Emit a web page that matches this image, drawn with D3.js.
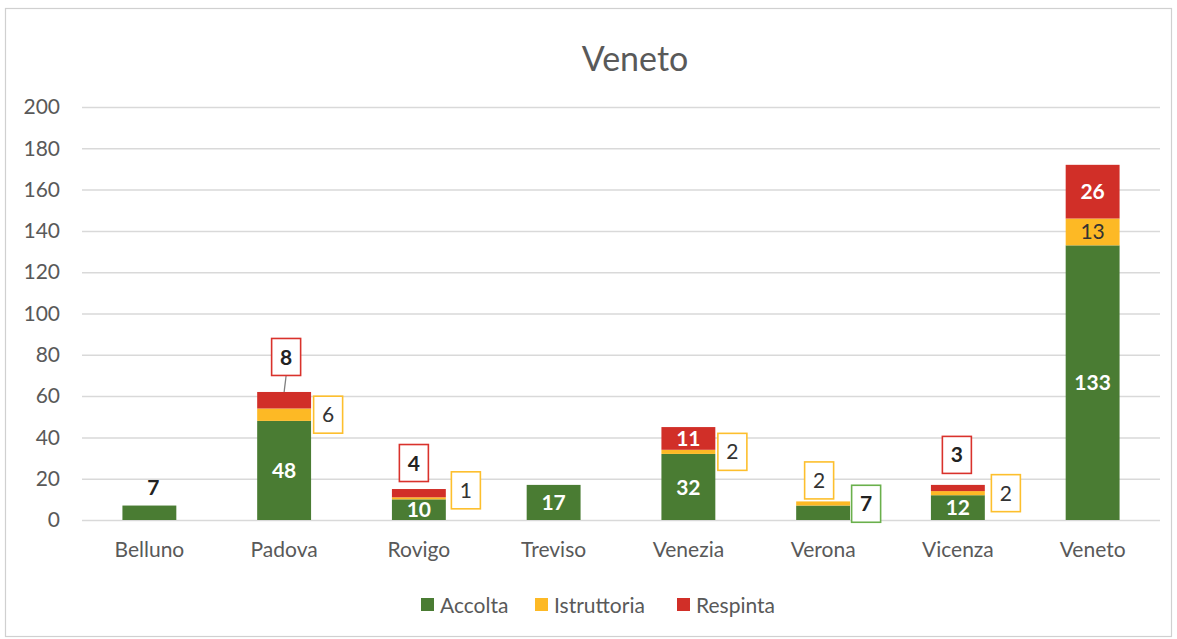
<!DOCTYPE html>
<html>
<head>
<meta charset="utf-8">
<script src="https://cdn.jsdelivr.net/npm/d3@7"></script>
<style>
  html, body { margin: 0; padding: 0; background: #fff; }
  svg { display: block; font-family: Lato, "Open Sans", sans-serif; }
</style>
</head>
<body>
<svg id="chart" width="1177" height="639"></svg>
<script>
// ---- data ----
const categories = ["Belluno", "Padova", "Rovigo", "Treviso", "Venezia", "Verona", "Vicenza", "Veneto"];
const seriesNames = ["Accolta", "Istruttoria", "Respinta"];
const accolta     = [7, 48, 10, 17, 32, 7, 12, 133];
const istruttoria = [0, 6, 1, 0, 2, 2, 2, 13];
const respinta    = [0, 8, 4, 0, 11, 0, 3, 26];
const yTicks = [0, 20, 40, 60, 80, 100, 120, 140, 160, 180, 200];
const titleText = "Veneto";

// ---- styling / layout ----
const colors = { Accolta: "#4a7c33", Istruttoria: "#fdb925", Respinta: "#d12f28" };
const boxColors = { Accolta: "#6ab04c", Istruttoria: "#fdbf2d", Respinta: "#d9322c" };
const textGrey = "#595959";
const fs = 21;

// label placement rules: "in" = inside segment, otherwise a callout with offsets (px)
const labelLayout = [
  { cat: "Belluno", s: "Accolta", mode: "plain", anchor: "top", dx: 4, dy: -18 },
  { cat: "Padova", s: "Accolta", mode: "in" },
  { cat: "Padova", s: "Istruttoria", mode: "box", anchor: "mid", dx: 44, dy: 0 },
  { cat: "Padova", s: "Respinta", mode: "box", anchor: "top", dx: 2, dy: -35, leader: true },
  { cat: "Rovigo", s: "Accolta", mode: "in" },
  { cat: "Rovigo", s: "Istruttoria", mode: "box", anchor: "mid", dx: 47, dy: -8 },
  { cat: "Rovigo", s: "Respinta", mode: "box", anchor: "top", dx: -5, dy: -26 },
  { cat: "Treviso", s: "Accolta", mode: "in" },
  { cat: "Venezia", s: "Accolta", mode: "in" },
  { cat: "Venezia", s: "Istruttoria", mode: "box", anchor: "mid", dx: 44, dy: 0 },
  { cat: "Venezia", s: "Respinta", mode: "in" },
  { cat: "Verona", s: "Accolta", mode: "box", anchor: "mid", dx: 43, dy: -9 },
  { cat: "Verona", s: "Istruttoria", mode: "box", anchor: "top", dx: -4, dy: -21 },
  { cat: "Vicenza", s: "Accolta", mode: "in" },
  { cat: "Vicenza", s: "Istruttoria", mode: "box", anchor: "mid", dx: 48, dy: 0 },
  { cat: "Vicenza", s: "Respinta", mode: "box", anchor: "top", dx: -1, dy: -30 },
  { cat: "Veneto", s: "Accolta", mode: "in" },
  { cat: "Veneto", s: "Istruttoria", mode: "in", dark: true },
  { cat: "Veneto", s: "Respinta", mode: "in" }
];

const svg = d3.select("#chart");
const plot = { left: 82, right: 1160, top: 107, bottom: 520 };

// outer border
svg.append("rect").attr("x", 5.5).attr("y", 8.5).attr("width", 1166).attr("height", 628)
  .attr("fill", "#fff").attr("stroke", "#d0d0d0").attr("stroke-width", 1.2);

// title
svg.append("text").attr("x", 635).attr("y", 71).attr("text-anchor", "middle")
  .attr("font-size", 34).attr("fill", textGrey).text(titleText);

const x = d3.scaleBand().domain(categories).range([plot.left, plot.right])
  .paddingInner(0.6).paddingOuter(0.3);
const y = d3.scaleLinear().domain([0, 200]).range([plot.bottom, plot.top]);

// gridlines + y labels
const yAxis = d3.axisLeft(y).tickValues(yTicks).tickSize(-(plot.right - plot.left)).tickPadding(22);
const gy = svg.append("g").attr("transform", `translate(${plot.left},0)`).call(yAxis);
gy.select(".domain").remove();
gy.selectAll(".tick line").attr("stroke", "#d9d9d9").attr("stroke-width", 1.5);
gy.selectAll(".tick text").attr("font-size", fs).attr("fill", textGrey)
  .attr("font-family", "Lato, 'Open Sans', sans-serif");

// x axis labels
const xAxis = d3.axisBottom(x).tickSize(0).tickPadding(22);
const gx = svg.append("g").attr("transform", `translate(0,${plot.bottom})`).call(xAxis);
gx.select(".domain").remove();
gx.selectAll(".tick text").attr("font-size", fs).attr("fill", textGrey)
  .attr("font-family", "Lato, 'Open Sans', sans-serif");

// stacked data
const table = categories.map((c, i) => ({ cat: c, Accolta: accolta[i], Istruttoria: istruttoria[i], Respinta: respinta[i] }));
const stack = d3.stack().keys(seriesNames)(table);

svg.append("g").selectAll("g").data(stack).join("g")
  .attr("fill", d => colors[d.key])
  .selectAll("rect").data(d => d.filter(p => p[1] - p[0] > 0)).join("rect")
  .attr("x", d => x(d.data.cat))
  .attr("width", x.bandwidth())
  .attr("y", d => y(d[1]))
  .attr("height", d => y(d[0]) - y(d[1]));

// labels
const lab = svg.append("g");
labelLayout.forEach(L => {
  const si = seriesNames.indexOf(L.s);
  const ci = categories.indexOf(L.cat);
  const seg = stack[si][ci];
  const val = seg[1] - seg[0];
  const cx = x(L.cat) + x.bandwidth() / 2;
  const total = stack[stack.length - 1][ci][1];
  if (L.mode === "in") {
    lab.append("text").attr("x", cx).attr("y", y((seg[0] + seg[1]) / 2))
      .attr("dy", "0.36em").attr("text-anchor", "middle").attr("font-size", fs)
      .attr("font-weight", L.dark ? "normal" : "bold")
      .attr("fill", L.dark ? "#333" : "#fff").text(val);
    return;
  }
  const ay = L.anchor === "top" ? y(total) : y((seg[0] + seg[1]) / 2);
  const px = cx + L.dx, py = ay + L.dy;
  if (L.mode === "plain") {
    lab.append("text").attr("x", px).attr("y", py).attr("dy", "0.36em")
      .attr("text-anchor", "middle").attr("font-size", fs).attr("font-weight", "bold")
      .attr("fill", "#222").text(val);
    return;
  }
  const bw = 29, bh = 37;
  if (L.leader) {
    lab.append("line").attr("x1", cx).attr("y1", y(total)).attr("x2", px).attr("y2", py + bh / 2)
      .attr("stroke", "#7f7f7f").attr("stroke-width", 1.3);
  }
  lab.append("rect").attr("x", px - bw / 2).attr("y", py - bh / 2).attr("width", bw).attr("height", bh)
    .attr("fill", "#fff").attr("stroke", boxColors[L.s]).attr("stroke-width", 1.6);
  const bold = L.s !== "Istruttoria";
  lab.append("text").attr("x", px).attr("y", py).attr("dy", "0.36em")
    .attr("text-anchor", "middle").attr("font-size", fs)
    .attr("font-weight", bold ? "bold" : "normal").attr("fill", bold ? "#222" : "#333").text(val);
});

// legend
const legendX = [421, 535, 677];
const lg = svg.append("g");
seriesNames.forEach((s, i) => {
  lg.append("rect").attr("x", legendX[i]).attr("y", 598).attr("width", 13).attr("height", 13).attr("fill", colors[s]);
  lg.append("text").attr("x", legendX[i] + 19).attr("y", 605).attr("dy", "0.36em")
    .attr("font-size", fs).attr("fill", textGrey).text(s);
});
</script>
</body>
</html>
